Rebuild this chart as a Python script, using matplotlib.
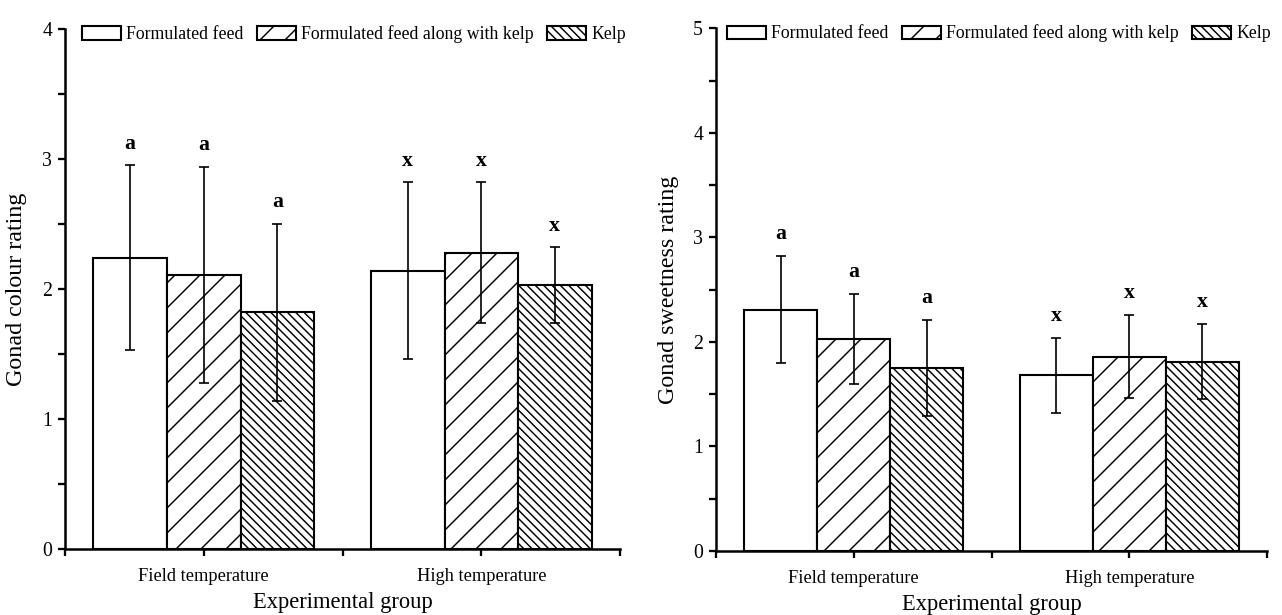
import matplotlib
matplotlib.use("Agg")
import matplotlib.pyplot as plt
import numpy as np
from matplotlib.ticker import MultipleLocator, FixedLocator
from matplotlib.patches import Patch

# --- data ---
groups = ["Field temperature", "High temperature"]
feeds = ["Formulated feed", "Formulated feed along with kelp", "Kelp"]

colour_ff = [2.24, 2.14]
colour_ff_sd = [0.71, 0.68]
colour_ffk = [2.11, 2.28]
colour_ffk_sd = [0.83, 0.54]
colour_kelp = [1.82, 2.03]
colour_kelp_sd = [0.68, 0.29]
colour_letters = ["a", "x"]

sweet_ff = [2.31, 1.68]
sweet_ff_sd = [0.51, 0.36]
sweet_ffk = [2.03, 1.86]
sweet_ffk_sd = [0.43, 0.40]
sweet_kelp = [1.75, 1.81]
sweet_kelp_sd = [0.46, 0.36]
sweet_letters = ["a", "x"]

plt.rcParams["font.family"] = ["Liberation Serif", "DejaVu Serif"]
plt.rcParams["hatch.linewidth"] = 0.7

DPI = 150
hatches = ["", "//", "\\" * 6]
bar_w = 0.265


def draw_panel(ax, means, sds, letters, ylabel, ymax, leg_x):
    x = np.arange(1, len(groups) + 1)
    for i, (m, s) in enumerate(zip(means, sds)):
        xi = x + (i - 1) * bar_w
        ax.bar(xi, m, width=bar_w, color="white", edgecolor="black",
               linewidth=1.0, hatch=hatches[i], zorder=2)
        ax.errorbar(xi, m, yerr=s, fmt="none", ecolor="black",
                    elinewidth=0.8, capsize=2.2, capthick=0.8, zorder=3)
        # significance letters above each error bar
        for k in range(len(groups)):
            ax.annotate(letters[k], (xi[k], m[k] + s[k]),
                        xytext=(0, 10.5), textcoords="offset points",
                        ha="center", va="center", fontsize=10.5,
                        fontweight="bold")

    ax.set_xlim(0.5, len(groups) + 0.5)
    ax.set_ylim(0, ymax)
    ax.set_xticks(x)
    ax.set_xticklabels(groups)
    ax.xaxis.set_minor_locator(FixedLocator([0.5, 1.5, 2.5]))
    ax.yaxis.set_major_locator(MultipleLocator(1))
    ax.yaxis.set_minor_locator(MultipleLocator(0.5))
    ax.tick_params(axis="both", which="both", direction="out",
                   width=1.1, length=3.2)
    ax.tick_params(axis="x", labelsize=8.8, pad=6)
    ax.tick_params(axis="y", labelsize=9.5, pad=3)

    for side in ["top", "right"]:
        ax.spines[side].set_visible(False)
    for side in ["left", "bottom"]:
        ax.spines[side].set_linewidth(1.2)

    ax.set_xlabel("Experimental group", fontsize=10.8)
    ax.set_ylabel(ylabel, fontsize=11.5)
    ax.xaxis.set_label_coords(0.5, -0.082)
    ax.yaxis.set_label_coords(-0.068, 0.5)

    handles = [Patch(facecolor="white", edgecolor="black", linewidth=1.0,
                     hatch=h) for h in hatches]
    ax.legend(handles, feeds, loc="center left", ncol=3, frameon=False,
              bbox_to_anchor=(leg_x, 0.99), borderaxespad=0, borderpad=0,
              handlelength=2.2, handleheight=0.8, handletextpad=0.3,
              columnspacing=0.75, fontsize=8.5)


fig = plt.figure(figsize=(1282 / DPI, 615 / DPI), dpi=DPI)
ax1 = fig.add_axes([0.0507, 0.107, 0.433, 0.846])
ax2 = fig.add_axes([0.5585, 0.104, 0.430, 0.850])

draw_panel(ax1, [colour_ff, colour_ffk, colour_kelp],
           [colour_ff_sd, colour_ffk_sd, colour_kelp_sd],
           colour_letters, "Gonad colour rating", 4, 0.03)
draw_panel(ax2, [sweet_ff, sweet_ffk, sweet_kelp],
           [sweet_ff_sd, sweet_ffk_sd, sweet_kelp_sd],
           sweet_letters, "Gonad sweetness rating", 5, 0.02)

fig.savefig("out.png", dpi=DPI)
